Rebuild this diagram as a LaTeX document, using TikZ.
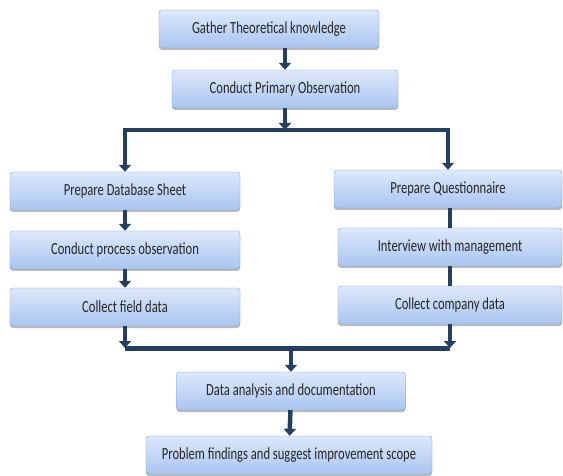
\documentclass[tikz,border=0pt]{standalone}
\usepackage{fontspec}
\setmainfont[FakeStretch=0.74]{Carlito}
\usepackage{xcolor}
\usetikzlibrary{arrows.meta,shadows}
\definecolor{boxtop}{HTML}{DDE8FA}
\definecolor{boxbot}{HTML}{A9C5F0}
\definecolor{boxline}{HTML}{7EA2D6}
\definecolor{arrowblue}{HTML}{243F60}
\begin{document}
\begin{tikzpicture}[x=1pt, y=-1pt,
    box/.style={draw=boxline, rounded corners=3pt, top color=boxtop, bottom color=boxbot,
        minimum height=38pt, inner sep=0pt, font=\fontsize{17}{19}\selectfont, text=black!85,
        drop shadow={shadow xshift=0pt, shadow yshift=-2pt, fill=black!45, opacity=0.6}},
    arr/.style={-{Triangle[width=12pt,length=7pt]}, line width=4.5pt, draw=arrowblue},
    link/.style={line width=4.5pt, draw=arrowblue},
    bar/.style={line width=5pt, draw=arrowblue}
]
\useasboundingbox (0,0) rectangle (563,476);
\node[box, minimum width=220pt] (gather) at (269,29) {Gather Theoretical knowledge};
\node[box, minimum width=226pt] (primary) at (285,89) {Conduct Primary Observation};
\node[box, minimum width=230pt] (dbsheet) at (125,191) {Prepare Database Sheet};
\node[box, minimum width=230pt] (process) at (125,250) {Conduct process observation};
\node[box, minimum width=230pt] (field) at (125,307) {Collect field data};
\node[box, minimum width=228pt] (quest) at (448,189) {Prepare Questionnaire};
\node[box, minimum width=224pt] (interview) at (450,247) {Interview with management};
\node[box, minimum width=224pt] (company) at (450,305) {Collect company data};
\node[box, minimum width=229pt] (analysis) at (291,391) {Data analysis and documentation};
\node[box, minimum width=286pt] (findings) at (289,455) {Problem findings and suggest improvement scope};

\coordinate (split) at (285,130);
\coordinate (merge) at (291,348);

\draw[arr] (gather.south -| primary.north) -- (primary.north);
\draw[arr] (primary.south) -- (split);
\draw[arr] (split) -| (dbsheet.north);
\draw[arr] (split) -| (quest.north);
\draw[arr] (dbsheet) -- (process);
\draw[arr] (process) -- (field);
\draw[link] (interview.north |- quest.south) -- (interview.north);
\draw[link] (interview) -- (company);
\draw[bar] (field.south |- merge) -- (company.south |- merge);
\draw[arr] (field.south) -- (field.south |- merge);
\draw[arr] (company.south) -- (company.south |- merge);
\draw[arr] (merge) -- (analysis.north);
\draw[arr] (analysis) -- (findings);
\end{tikzpicture}
\end{document}
